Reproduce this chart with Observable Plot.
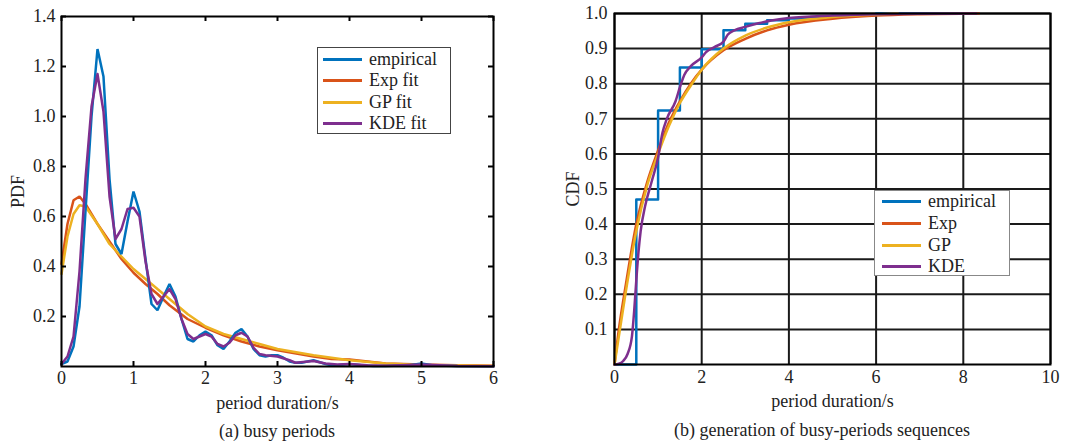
<!DOCTYPE html>
<html><head><meta charset="utf-8">
<script src="https://cdn.jsdelivr.net/npm/d3@7"></script>
<script src="https://cdn.jsdelivr.net/npm/@observablehq/plot@0.6"></script>
<style>
body{margin:0;background:#fff;}
#root{position:relative;width:1075px;height:443px;font-family:"Liberation Serif","Times New Roman",serif;color:#222;overflow:hidden;}
.panel{position:absolute;top:0;}
.cap{position:absolute;font-size:18px;white-space:nowrap;transform:translate(-50%,-50%);line-height:20px;}
.legend{position:absolute;background:#fff;box-sizing:border-box;}
.sw{position:absolute;height:3px;}
.lt{position:absolute;font-size:18px;line-height:20px;white-space:nowrap;transform:translateY(-50%);}
</style></head>
<body><div id="root"></div>
<script>
// ---------- Panel (a): PDF ----------
const pdfXTicks = [0, 1, 2, 3, 4, 5, 6];
const pdfYTicks = [0.2, 0.4, 0.6, 0.8, 1.0, 1.2, 1.4];

const empPdfX = [0,0.083,0.167,0.25,0.333,0.417,0.5,0.583,0.667,0.75,0.833,0.917,1.0,1.083,1.167,1.25,1.333,1.417,1.5,1.583,1.667,1.75,1.833,1.917,2.0,2.083,2.167,2.25,2.333,2.417,2.5,2.583,2.667,2.75,2.833,2.917,3.0,3.083,3.167,3.25,3.333,3.5,3.667,3.75,3.833,4.0,4.167,4.333,4.5,4.833,5.0,5.167,5.5,6.0];
const empPdfY = [0.01,0.02,0.08,0.24,0.62,1.0,1.27,1.16,0.75,0.49,0.45,0.58,0.70,0.62,0.43,0.25,0.225,0.28,0.33,0.28,0.19,0.11,0.10,0.125,0.14,0.125,0.085,0.07,0.10,0.135,0.15,0.12,0.07,0.045,0.04,0.045,0.045,0.035,0.02,0.015,0.015,0.025,0.01,0.005,0.005,0.01,0.005,0.002,0.002,0.005,0.012,0.004,0.002,0.001];

const kdePdfX = [0,0.083,0.167,0.25,0.333,0.417,0.5,0.583,0.667,0.75,0.833,0.917,1.0,1.083,1.167,1.25,1.333,1.417,1.5,1.583,1.667,1.75,1.833,1.917,2.0,2.083,2.167,2.25,2.333,2.417,2.5,2.583,2.667,2.75,2.833,3.0,3.167,3.25,3.5,3.667,3.833,4.0,4.25,4.5,5.0,5.5,6.0];
const kdePdfY = [0.01,0.04,0.12,0.38,0.75,1.04,1.17,1.02,0.68,0.51,0.55,0.63,0.635,0.60,0.42,0.29,0.25,0.28,0.31,0.27,0.19,0.13,0.11,0.12,0.13,0.12,0.09,0.08,0.095,0.125,0.135,0.12,0.075,0.05,0.045,0.04,0.025,0.015,0.022,0.012,0.008,0.01,0.005,0.003,0.008,0.002,0.001];

const expPdfX = [0,0.083,0.167,0.25,0.333,0.5,0.667,0.833,1.0,1.167,1.333,1.5,1.75,2.0,2.25,2.5,2.75,3.0,3.5,3.75,4.0,4.25,4.5,5.0,5.5,6.0];
const expPdfY = [0.41,0.57,0.665,0.68,0.65,0.57,0.50,0.43,0.375,0.33,0.29,0.245,0.19,0.155,0.125,0.10,0.08,0.065,0.04,0.03,0.028,0.02,0.012,0.008,0.005,0.003];

const gpPdfX = [0,0.083,0.167,0.25,0.333,0.5,0.667,0.833,1.0,1.167,1.333,1.5,1.75,2.0,2.25,2.5,2.75,3.0,3.5,4.0,4.5,5.0,6.0];
const gpPdfY = [0.37,0.52,0.61,0.645,0.64,0.57,0.49,0.44,0.39,0.35,0.31,0.27,0.21,0.16,0.13,0.11,0.09,0.07,0.045,0.025,0.012,0.006,0.002];

// ---------- Panel (b): CDF ----------
const cdfXTicks = [0, 2, 4, 6, 8, 10];
const cdfYTicks = [0.1, 0.2, 0.3, 0.4, 0.5, 0.6, 0.7, 0.8, 0.9, 1.0];

const empCdfX = [0,0.5,1.0,1.5,2.0,2.5,3.0,3.5,4.0,4.5,5.0,6.0,8.0];
const empCdfY = [0,0.47,0.724,0.846,0.898,0.952,0.971,0.981,0.986,0.99,0.995,1.0,1.0];

const expCdfX = [0,0.1,0.25,0.5,0.75,1.0,1.25,1.5,1.75,2.0,2.5,3.0,3.5,4.0,5.0,6.0,7.0,8.36];
const expCdfY = [0,0.1,0.22,0.40,0.52,0.61,0.69,0.75,0.80,0.84,0.895,0.928,0.952,0.968,0.985,0.994,0.998,1.0];

const gpCdfX = [0,0.1,0.25,0.5,0.75,1.0,1.25,1.5,1.75,2.0,2.5,3.0,3.5,4.0,5.0,6.0,6.5];
const gpCdfY = [0,0.08,0.2,0.38,0.51,0.60,0.68,0.745,0.795,0.84,0.90,0.937,0.96,0.975,0.99,0.997,1.0];

const kdeCdfX = [0,0.1,0.2,0.3,0.4,0.45,0.5,0.55,0.6,0.7,0.85,1.0,1.1,1.2,1.4,1.5,1.6,1.75,2.0,2.1,2.3,2.5,2.6,2.75,3.0,3.3,3.6,4.0,5.0,6.0,7.0,8.3];
const kdeCdfY = [0,0.002,0.01,0.03,0.08,0.15,0.24,0.32,0.38,0.45,0.52,0.59,0.66,0.70,0.75,0.79,0.825,0.85,0.875,0.89,0.905,0.92,0.94,0.952,0.962,0.972,0.98,0.987,0.994,0.998,0.999,1.0];

const pdfNames = ["empirical", "Exp fit", "GP fit", "KDE fit"];
const cdfNames = ["empirical", "Exp", "GP", "KDE"];
const colors = ["#0072BD", "#D95319", "#EDB120", "#7E2F8E"];

const zipXY = (xs, ys) => xs.map((x, i) => ({x, y: ys[i]}));
const fontFam = '"Liberation Serif","Times New Roman",serif';
const lw = 2.5;

// Panel a
const aW = 540, aH = 415, aML = 61, aMR = 47, aMT = 16, aMB = 49;
const aIH = aH - aMT - aMB, aIW = aW - aML - aMR;
const pdfSeries = [
  zipXY(empPdfX, empPdfY), zipXY(expPdfX, expPdfY), zipXY(gpPdfX, gpPdfY), zipXY(kdePdfX, kdePdfY)
];
const plotA = Plot.plot({
  width: aW, height: aH, marginLeft: aML, marginRight: aMR, marginTop: aMT, marginBottom: aMB,
  style: {fontFamily: fontFam, fontSize: "18px", color: "#222", background: "transparent", overflow: "visible"},
  x: {domain: [0, 6]},
  y: {domain: [0, 1.4]},
  marks: [
    Plot.axisX(pdfXTicks, {tickSize: 0, tickPadding: 5, fontSize: 18, label: "period duration/s", labelAnchor: "center", labelArrow: "none", labelOffset: 42}),
    Plot.axisY(pdfYTicks, {tickSize: 0, tickPadding: 6, fontSize: 18, tickFormat: d3.format(".1f"), label: "PDF", labelAnchor: "center", labelArrow: "none", labelOffset: 50}),
    ...[1, 2, 0].map(i => Plot.line(pdfSeries[i], {x: "x", y: "y", stroke: colors[i], strokeWidth: lw, strokeLinejoin: "miter"})),
    Plot.line(pdfSeries[3], {x: "x", y: "y", stroke: colors[3], strokeWidth: lw}),
    Plot.tickX(pdfXTicks, {x: d => d, insetTop: aIH - 5, stroke: "#000", strokeWidth: 2}),
    Plot.tickX(pdfXTicks, {x: d => d, insetBottom: aIH - 5, stroke: "#000", strokeWidth: 2}),
    Plot.tickY(pdfYTicks, {y: d => d, insetRight: aIW - 5, stroke: "#000", strokeWidth: 2}),
    Plot.tickY(pdfYTicks, {y: d => d, insetLeft: aIW - 5, stroke: "#000", strokeWidth: 2}),
    Plot.frame({stroke: "#000", strokeWidth: 2})
  ]
});

// Panel b
const bW = 535, bH = 415, bML = 74, bMR = 25, bMT = 13, bMB = 51;
const cdfSeries = [
  zipXY(empCdfX, empCdfY), zipXY(expCdfX, expCdfY), zipXY(gpCdfX, gpCdfY), zipXY(kdeCdfX, kdeCdfY)
];
const plotB = Plot.plot({
  width: bW, height: bH, marginLeft: bML, marginRight: bMR, marginTop: bMT, marginBottom: bMB,
  style: {fontFamily: fontFam, fontSize: "18px", color: "#222", background: "transparent", overflow: "visible"},
  x: {domain: [0, 10]},
  y: {domain: [0, 1]},
  marks: [
    Plot.gridX(cdfXTicks, {stroke: "#1a1a1a", strokeOpacity: 1, strokeWidth: 2}),
    Plot.gridY(cdfYTicks, {stroke: "#1a1a1a", strokeOpacity: 1, strokeWidth: 2}),
    Plot.axisX(cdfXTicks, {tickSize: 0, tickPadding: 6, fontSize: 18, label: "period duration/s", labelAnchor: "center", labelArrow: "none", labelOffset: 42}),
    Plot.axisY(cdfYTicks, {tickSize: 0, tickPadding: 7, fontSize: 18, tickFormat: d3.format(".1f"), label: "CDF", labelAnchor: "center", labelArrow: "none", labelOffset: 48}),
    Plot.line(cdfSeries[0], {x: "x", y: "y", stroke: colors[0], strokeWidth: lw, curve: "step-after"}),
    Plot.line(cdfSeries[1], {x: "x", y: "y", stroke: colors[1], strokeWidth: lw, curve: "monotone-x"}),
    Plot.line(cdfSeries[2], {x: "x", y: "y", stroke: colors[2], strokeWidth: lw, curve: "monotone-x"}),
    Plot.line(cdfSeries[3], {x: "x", y: "y", stroke: colors[3], strokeWidth: lw, curve: "monotone-x"}),
    Plot.frame({stroke: "#000", strokeWidth: 2})
  ]
});

const root = document.getElementById("root");
function addPanel(svg, left) {
  const d = document.createElement("div");
  d.className = "panel"; d.style.left = left + "px";
  d.appendChild(svg); root.appendChild(d);
}
addPanel(plotA, 0);
addPanel(plotB, 540);

function addCaption(text, cx, cy) {
  const c = document.createElement("div");
  c.className = "cap"; c.textContent = text;
  c.style.left = cx + "px"; c.style.top = cy + "px";
  root.appendChild(c);
}
addCaption("(a) busy periods", 277, 431);
addCaption("(b) generation of busy-periods sequences", 822, 430);

function addLegend(names, box, border, swX0, swX1, txtX, rows) {
  const lg = document.createElement("div");
  lg.className = "legend";
  Object.assign(lg.style, {left: box[0] + "px", top: box[1] + "px", width: (box[2] - box[0]) + "px", height: (box[3] - box[1]) + "px", border: "1px solid " + border});
  names.forEach((n, i) => {
    const sw = document.createElement("div");
    sw.className = "sw";
    Object.assign(sw.style, {left: (swX0 - box[0] - 1) + "px", width: (swX1 - swX0) + "px", top: (rows[i] - box[1] - 2.5) + "px", background: colors[i]});
    const t = document.createElement("div");
    t.className = "lt"; t.textContent = n;
    Object.assign(t.style, {left: (txtX - box[0] - 1) + "px", top: (rows[i] - box[1] - 1) + "px"});
    lg.appendChild(sw); lg.appendChild(t);
  });
  root.appendChild(lg);
}
addLegend(pdfNames, [317, 47, 451, 134], "#444", 323, 362, 369, [59, 80, 102, 123]);
addLegend(cdfNames, [874, 190, 1010, 276], "#888", 882, 921, 928, [201, 223, 245, 266]);
</script>
</body></html>
